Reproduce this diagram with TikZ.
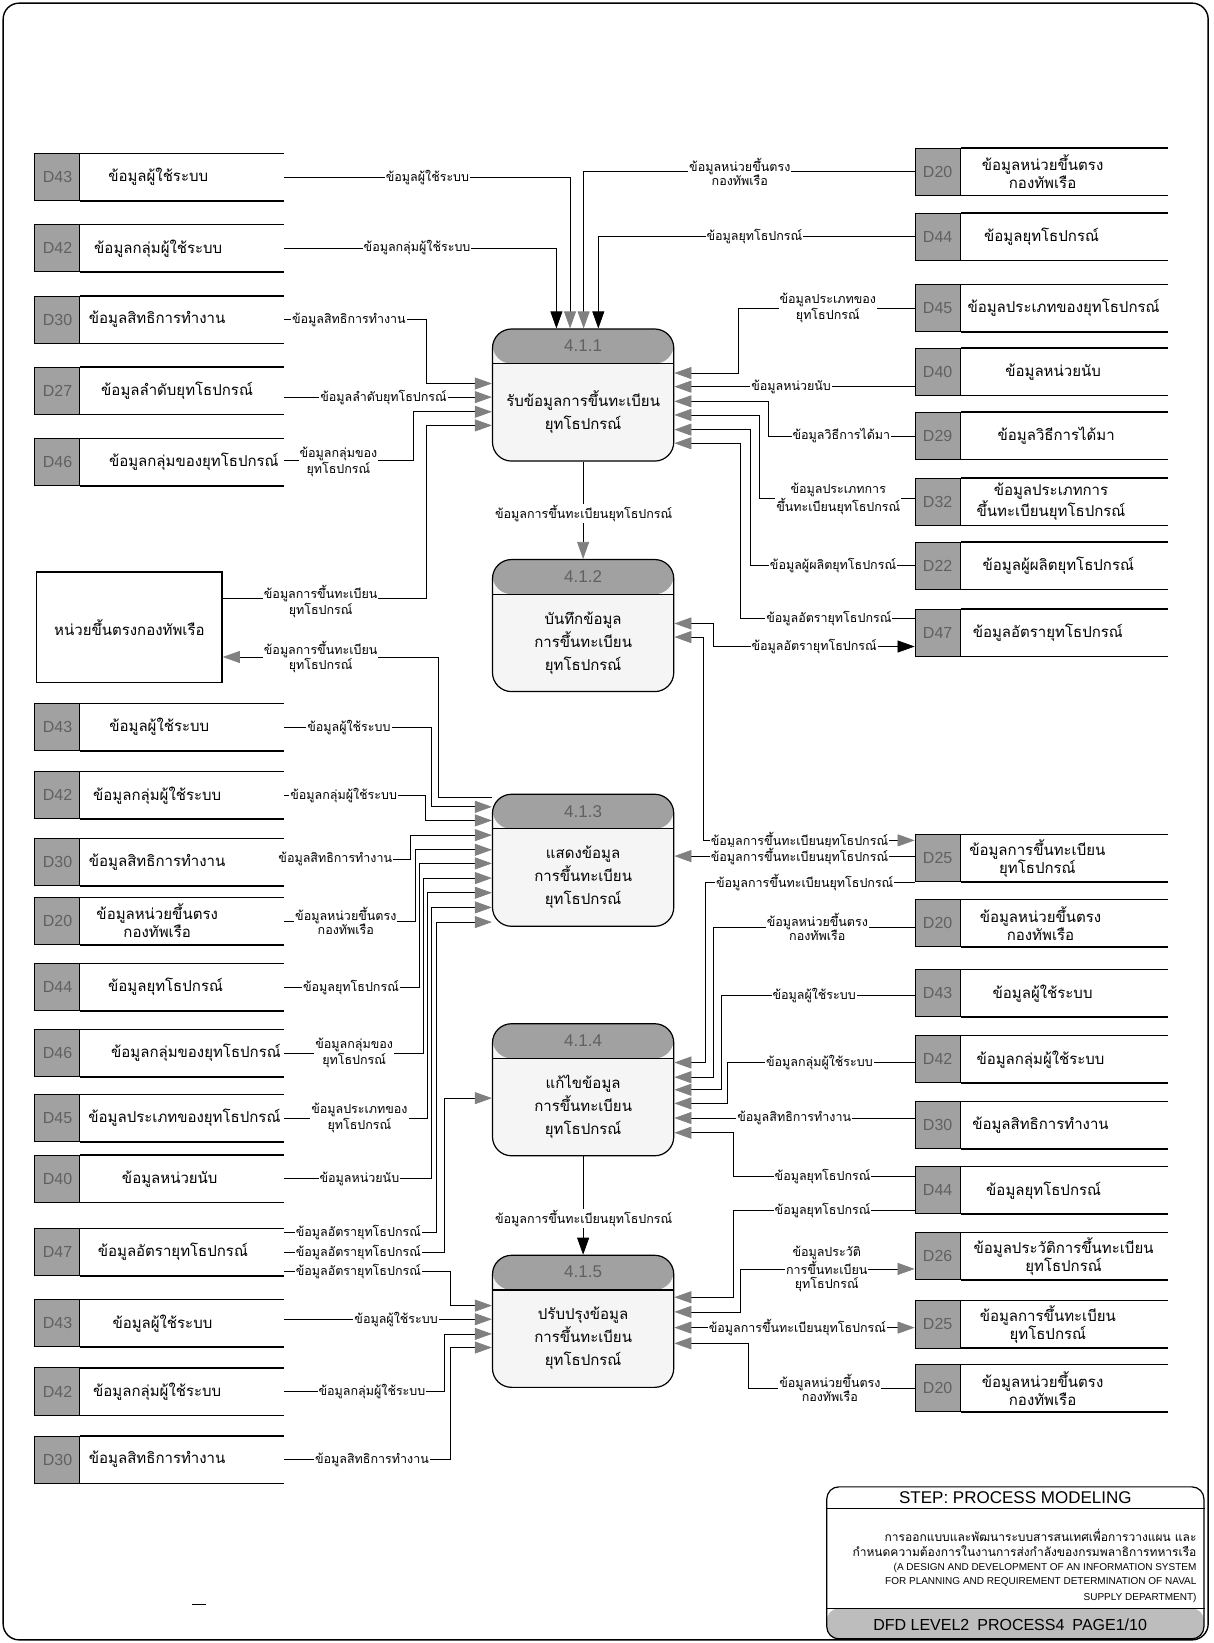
\documentclass[tikz,border=0pt]{standalone}
\usepackage{fontspec}
\setmainfont{Liberation Sans}
\newfontfamily\thaifont[Script=Thai]{Loma}
\usetikzlibrary{arrows.meta, positioning}

\definecolor{hdrgray}{gray}{0.63}
\definecolor{idgray}{gray}{0.63}
\definecolor{arrgray}{gray}{0.5}
\definecolor{numgray}{gray}{0.38}

\tikzset{
  sline/.style={line width=1.5pt},
  lbody/.style={minimum width=203.2pt, minimum height=47.1pt, inner sep=0pt,
    append after command={(\tikzlastnode.north west) edge[sline] (\tikzlastnode.north east)
      (\tikzlastnode.south west) edge[sline] (\tikzlastnode.south east)}},
  rbody/.style={lbody, minimum width=206.4pt},
  sid/.style={draw, line width=1pt, fill=idgray, text=numgray, anchor=east,
    font=\fontsize{16}{16}\selectfont, minimum width=45pt, minimum height=47.1pt, inner sep=0pt},
  stxt/.style={font=\thaifont\fontsize{15}{18}\selectfont, align=center, inner sep=0pt},
  ent/.style={draw, line width=1.3pt, fill=white, minimum width=185.4pt, minimum height=110pt,
    font=\thaifont\fontsize{15}{18}\selectfont},
  proc/.style={draw, line width=1.2pt, rounded corners=19pt, fill=black!4,
    minimum width=181.2pt, minimum height=132pt, inner sep=0pt,
    path picture={\fill[hdrgray] (path picture bounding box.north west) rectangle
        ([yshift=-34.6pt]path picture bounding box.north east);
      \draw[line width=1.2pt] ([yshift=-34.6pt]path picture bounding box.north west) --
        ([yshift=-34.6pt]path picture bounding box.north east);}},
  pnum/.style={font=\fontsize{17}{17}\selectfont, text=numgray, minimum height=34.6pt, inner sep=0pt},
  ptxt/.style={font=\thaifont\fontsize{15}{23}\selectfont, align=center, minimum height=97.4pt, inner sep=0pt},
  fl/.style={font=\thaifont\fontsize{12.5}{14}\selectfont, fill=white, inner sep=1pt, align=center},
  fg/.style={line width=0.7pt, -{Triangle[length=17pt,width=12pt,color=arrgray]}},
  fk/.style={line width=0.7pt, -{Triangle[length=17pt,width=12pt]}},
  fgg/.style={line width=0.7pt, {Triangle[length=17pt,width=12pt,color=arrgray]}-{Triangle[length=17pt,width=12pt,color=arrgray]}},
  fgk/.style={line width=0.7pt, {Triangle[length=17pt,width=12pt,color=arrgray]}-{Triangle[length=17pt,width=12pt]}},
  legbox/.style={draw, line width=1.2pt, rounded corners=12pt, minimum width=377pt, minimum height=151.9pt, inner sep=0pt,
    path picture={\fill[hdrgray!70] ([yshift=30.4pt]path picture bounding box.south west) rectangle
        (path picture bounding box.south east);}},
  legt/.style={font=\fontsize{17}{17}\selectfont, inner sep=0pt},
  legth/.style={font=\thaifont\fontsize{12}{13}\selectfont, anchor=east, inner sep=0pt},
  legen/.style={font=\fontsize{10}{11}\selectfont, anchor=east, inner sep=0pt},
  legb/.style={font=\fontsize{16}{16}\selectfont, inner sep=0pt}
}

\begin{document}
\begin{tikzpicture}[x=1.0475pt, y=-1.0475pt]
  \useasboundingbox (0,0) rectangle (1158,1568);
  % page frame
  \draw[line width=1.4pt, rounded corners=16pt] (3,3) rectangle (1153,1565);

  % data stores, left column
  \foreach \n/\y/\id/\tx/\t in {L1/169/D43/151/{ข้อมูลผู้ใช้ระบบ}, L2/237/D42/151/{ข้อมูลกลุ่มผู้ใช้ระบบ},
      L3/305/D30/150/{ข้อมูลสิทธิการทำงาน}, L4/373/D27/169/{ข้อมูลลำดับยุทโธปกรณ์},
      L5/441/D46/185/{ข้อมูลกลุ่มของยุทโธปกรณ์}, L6/694/D43/152/{ข้อมูลผู้ใช้ระบบ},
      L7/759/D42/150/{ข้อมูลกลุ่มผู้ใช้ระบบ}, L8/823/D30/150/{ข้อมูลสิทธิการทำงาน},
      L9/879/D20/150/{ข้อมูลหน่วยขึ้นตรง\\กองทัพเรือ}, L10/942/D44/158/{ข้อมูลยุทโธปกรณ์},
      L11/1005/D46/187/{ข้อมูลกลุ่มของยุทโธปกรณ์}, L12/1067/D45/176/{ข้อมูลประเภทของยุทโธปกรณ์},
      L13/1125/D40/162/{ข้อมูลหน่วยนับ}, L14/1195/D47/165/{ข้อมูลอัตรายุทโธปกรณ์},
      L15/1263/D43/155/{ข้อมูลผู้ใช้ระบบ}, L16/1328/D42/150/{ข้อมูลกลุ่มผู้ใช้ระบบ},
      L17/1393/D30/150/{ข้อมูลสิทธิการทำงาน}}{
    \node[lbody] (s\n) at (174,\y) {};
    \node[sid] (i\n) at (s\n.west) {\id};
    \node[stxt] (t\n) at (\tx,\y) {\t};
  }

  % data stores, right column
  \foreach \n/\y/\id/\tx/\t in {R1/164/D20/995/{ข้อมูลหน่วยขึ้นตรง\\กองทัพเรือ}, R2/226/D44/994/{ข้อมูลยุทโธปกรณ์},
      R3/294/D45/1015/{ข้อมูลประเภทของยุทโธปกรณ์}, R4/355/D40/1005/{ข้อมูลหน่วยนับ},
      R5/416/D29/1008/{ข้อมูลวิธีการได้มา}, R6/479/D32/1003/{ข้อมูลประเภทการ\\ขึ้นทะเบียนยุทโธปกรณ์},
      R7/540/D22/1010/{ข้อมูลผู้ผลิตยุทโธปกรณ์}, R8/604/D47/1000/{ข้อมูลอัตรายุทโธปกรณ์},
      R9/819/D25/990/{ข้อมูลการขึ้นทะเบียน\\ยุทโธปกรณ์}, R10/881/D20/993/{ข้อมูลหน่วยขึ้นตรง\\กองทัพเรือ},
      R11/948/D43/995/{ข้อมูลผู้ใช้ระบบ}, R12/1011/D42/993/{ข้อมูลกลุ่มผู้ใช้ระบบ},
      R13/1074/D30/993/{ข้อมูลสิทธิการทำงาน}, R14/1136/D44/996/{ข้อมูลยุทโธปกรณ์},
      R15/1199/D26/1015/{ข้อมูลประวัติการขึ้นทะเบียน\\ยุทโธปกรณ์}, R16/1264/D25/1000/{ข้อมูลการขึ้นทะเบียน\\ยุทโธปกรณ์},
      R17/1325/D20/995/{ข้อมูลหน่วยขึ้นตรง\\กองทัพเรือ}}{
    \node[rbody] (s\n) at (1015.5,\y) {};
    \node[sid] (i\n) at (s\n.west) {\id};
    \node[stxt] (t\n) at (\tx,\y) {\t};
  }

  % external entity
  \node[ent] (E) at (123.5,598.5) {หน่วยขึ้นตรงกองทัพเรือ};

  % processes
  \node[proc] (P1) at (556.5,377) {};
  \node[pnum, below=0pt of P1.north] (P1n) {4.1.1};
  \node[ptxt, below=0pt of P1n] (P1t) {รับข้อมูลการขึ้นทะเบียน\\ยุทโธปกรณ์};
  \node[proc] (P2) at (556.5,597) {};
  \node[pnum, below=0pt of P2.north] (P2n) {4.1.2};
  \node[ptxt, below=0pt of P2n] (P2t) {บันทึกข้อมูล\\การขึ้นทะเบียน\\ยุทโธปกรณ์};
  \node[proc] (P3) at (556.5,821) {};
  \node[pnum, below=0pt of P3.north] (P3n) {4.1.3};
  \node[ptxt, below=0pt of P3n] (P3t) {แสดงข้อมูล\\การขึ้นทะเบียน\\ยุทโธปกรณ์};
  \node[proc] (P4) at (556.5,1040) {};
  \node[pnum, below=0pt of P4.north] (P4n) {4.1.4};
  \node[ptxt, below=0pt of P4n] (P4t) {แก้ไขข้อมูล\\การขึ้นทะเบียน\\ยุทโธปกรณ์};
  \node[proc] (P5) at (556.5,1261) {};
  \node[pnum, below=0pt of P5.north] (P5n) {4.1.5};
  \node[ptxt, below=0pt of P5n] (P5t) {ปรับปรุงข้อมูล\\การขึ้นทะเบียน\\ยุทโธปกรณ์};

  % flows into 4.1.1
  \draw[fk] (sL2.east) -| (P1.north -| 531,0);
  \draw[fg] (sL1.east) -| (P1.north -| 544,0);
  \draw[fg] (iR1.west) -| (P1.north -| 557,0);
  \draw[fk] (iR2.west) -| (P1.north -| 571,0);
  \draw[fg] (sL3.east) -| (407,366) -- (P1.west |- 0,366);
  \draw[fg] (sL4.east |- 0,379) -- (P1.west |- 0,379);
  \draw[fg] (sL5.east |- 0,439) -| (394,393) -- (P1.west |- 0,393);
  \draw[fg] (E.east |- 0,571) -| (407,406) -- (P1.west |- 0,406);
  \draw[fg] (iR3.west) -| (705,356) -- (P1.east |- 0,356);
  \draw[fg] (iR4.west |- 0,369) -- (P1.east |- 0,369);
  \draw[fg] (iR5.west) -| (733,383) -- (P1.east |- 0,383);
  \draw[fg] (iR6.west |- 0,476) -| (725,396) -- (P1.east |- 0,396);
  \draw[fg] (iR7.west) -| (716,410) -- (P1.east |- 0,410);
  \draw[fg] (iR8.west |- 0,590) -| (707,423) -- (P1.east |- 0,423);
  \draw[fg] (P1) -- (P2);

  % flows of 4.1.2
  \draw[fgk] (P2.east |- 0,595) -| (681,617) -- (iR8.west |- 0,617);
  \draw[fgg] (P2.east |- 0,608) -| (671,802) -- (iR9.west |- 0,802);

  % flows of 4.1.3
  \draw[fg] (P3.west |- 0,761) -| (418,627) -- (E.east |- 0,627);
  \draw[fg] (iR9.west |- 0,817) -- (P3.east |- 0,817);
  \draw[fg] (sL6.east) -| (412,770) -- (P3.west |- 0,770);
  \draw[fg] (sL7.east) -| (406,783) -- (P3.west |- 0,783);
  \draw[fg] (sL8.east |- 0,820) -| (392,797) -- (P3.west |- 0,797);
  \draw[fg] (sL9.east) -| (396,811) -- (P3.west |- 0,811);
  \draw[fg] (sL10.east) -| (400,824) -- (P3.west |- 0,824);
  \draw[fg] (sL11.east) -| (404,838) -- (P3.west |- 0,838);
  \draw[fg] (sL12.east) -| (408,852) -- (P3.west |- 0,852);
  \draw[fg] (sL13.east) -| (412,866) -- (P3.west |- 0,866);
  \draw[fg] (sL14.east |- 0,1176) -| (416,880) -- (P3.west |- 0,880);

  % flows of 4.1.4
  \draw[fg] (sL14.east) -| (424,1048) -- (P4.west |- 0,1048);
  \draw[fg] (iR9.west |- 0,842) -| (673,1014) -- (P4.east |- 0,1014);
  \draw[fg] (iR10.west |- 0,885) -| (681,1028) -- (P4.east |- 0,1028);
  \draw[fg] (iR11.west |- 0,950) -| (688,1040) -- (P4.east |- 0,1040);
  \draw[fg] (iR12.west |- 0,1014) -| (694,1053) -- (P4.east |- 0,1053);
  \draw[fg] (iR13.west |- 0,1067) -- (P4.east |- 0,1067);
  \draw[fg] (iR14.west |- 0,1123) -| (700,1081) -- (P4.east |- 0,1081);
  \draw[fk] (P4) -- (P5);

  % flows of 4.1.5
  \draw[fg] (sL14.east |- 0,1213) -| (430,1246) -- (P5.west |- 0,1246);
  \draw[fg] (sL15.east |- 0,1259) -- (P5.west |- 0,1259);
  \draw[fg] (sL16.east) -| (424,1273) -- (P5.west |- 0,1273);
  \draw[fg] (sL17.east) -| (430,1286) -- (P5.west |- 0,1286);
  \draw[fg] (iR14.west |- 0,1155) -| (700,1238) -- (P5.east |- 0,1238);
  \draw[fgg] (P5.east |- 0,1252) -| (707,1211) -- (iR15.west |- 0,1211);
  \draw[fgg] (P5.east |- 0,1267) -- (iR16.west |- 0,1267);
  \draw[fg] (iR17.west) -| (714,1282) -- (P5.east |- 0,1282);

  % flow labels
  \foreach \n/\x/\y/\t in {1/408/169/{ข้อมูลผู้ใช้ระบบ}, 2/398/236/{ข้อมูลกลุ่มผู้ใช้ระบบ},
      3/706/164/{ข้อมูลหน่วยขึ้นตรง\\กองทัพเรือ}, 4/720/226/{ข้อมูลยุทโธปกรณ์},
      5/333/305/{ข้อมูลสิทธิการทำงาน}, 6/366/379/{ข้อมูลลำดับยุทโธปกรณ์},
      7/323/441/{ข้อมูลกลุ่มของ\\ยุทโธปกรณ์}, 8/306/574/{ข้อมูลการขึ้นทะเบียน\\ยุทโธปกรณ์},
      9/306/627/{ข้อมูลการขึ้นทะเบียน\\ยุทโธปกรณ์}, 10/790/294/{ข้อมูลประเภทของ\\ยุทโธปกรณ์},
      11/755/369/{ข้อมูลหน่วยนับ}, 12/803/416/{ข้อมูลวิธีการได้มา},
      13/800/476/{ข้อมูลประเภทการ\\ขึ้นทะเบียนยุทโธปกรณ์}, 14/795/540/{ข้อมูลผู้ผลิตยุทโธปกรณ์},
      15/791/590/{ข้อมูลอัตรายุทโธปกรณ์}, 16/777/617/{ข้อมูลอัตรายุทโธปกรณ์},
      17/557/490/{ข้อมูลการขึ้นทะเบียนยุทโธปกรณ์}, 18/763/802/{ข้อมูลการขึ้นทะเบียนยุทโธปกรณ์},
      19/763/817/{ข้อมูลการขึ้นทะเบียนยุทโธปกรณ์}, 20/768/842/{ข้อมูลการขึ้นทะเบียนยุทโธปกรณ์},
      21/333/694/{ข้อมูลผู้ใช้ระบบ}, 22/328/759/{ข้อมูลกลุ่มผู้ใช้ระบบ},
      23/320/820/{ข้อมูลสิทธิการทำงาน}, 24/330/879/{ข้อมูลหน่วยขึ้นตรง\\กองทัพเรือ},
      25/335/942/{ข้อมูลยุทโธปกรณ์}, 26/338/1005/{ข้อมูลกลุ่มของ\\ยุทโธปกรณ์},
      27/343/1067/{ข้อมูลประเภทของ\\ยุทโธปกรณ์}, 28/343/1125/{ข้อมูลหน่วยนับ},
      29/342/1176/{ข้อมูลอัตรายุทโธปกรณ์}, 30/342/1195/{ข้อมูลอัตรายุทโธปกรณ์},
      31/342/1213/{ข้อมูลอัตรายุทโธปกรณ์}, 32/378/1259/{ข้อมูลผู้ใช้ระบบ},
      33/355/1328/{ข้อมูลกลุ่มผู้ใช้ระบบ}, 34/355/1393/{ข้อมูลสิทธิการทำงาน},
      35/780/885/{ข้อมูลหน่วยขึ้นตรง\\กองทัพเรือ}, 36/777/950/{ข้อมูลผู้ใช้ระบบ},
      37/782/1014/{ข้อมูลกลุ่มผู้ใช้ระบบ}, 38/758/1067/{ข้อมูลสิทธิการทำงาน},
      39/785/1123/{ข้อมูลยุทโธปกรณ์}, 40/557/1163/{ข้อมูลการขึ้นทะเบียนยุทโธปกรณ์},
      41/785/1155/{ข้อมูลยุทโธปกรณ์}, 42/789/1211/{ข้อมูลประวัติ\\การขึ้นทะเบียน\\ยุทโธปกรณ์},
      43/761/1267/{ข้อมูลการขึ้นทะเบียนยุทโธปกรณ์}, 44/792/1325/{ข้อมูลหน่วยขึ้นตรง\\กองทัพเรือ}}{
    \node[fl] (f\n) at (\x,\y) {\t};
  }

  % title block
  \node[legbox] (leg) at (969,1491.5) {};
  \draw[line width=1pt] (leg.west |- 0,1440) -- (leg.east |- 0,1440);
  \draw[line width=0.8pt] (leg.west |- 0,1535) -- (leg.east |- 0,1535);
  \node[legt] (legT) at (969,1429) {STEP: PROCESS MODELING};
  \node[legth] (leg1) at (1142,1465) {การออกแบบและพัฒนาระบบสารสนเทศเพื่อการวางแผน และ};
  \node[legth] (leg2) at (1142,1480) {กำหนดความต้องการในงานการส่งกำลังของกรมพลาธิการทหารเรือ};
  \node[legen] (leg3) at (1142,1496) {(A DESIGN AND DEVELOPMENT OF AN INFORMATION SYSTEM};
  \node[legen] (leg4) at (1142,1510) {FOR PLANNING AND REQUIREMENT DETERMINATION OF NAVAL};
  \node[legen] (leg5) at (1142,1525) {SUPPLY DEPARTMENT)};
  \node[legb] (legB) at (964,1551) {DFD LEVEL2\enspace PROCESS4\enspace PAGE1/10};

  \draw[line width=0.8pt] (183,1531) -- (197,1531);
\end{tikzpicture}
\end{document}
